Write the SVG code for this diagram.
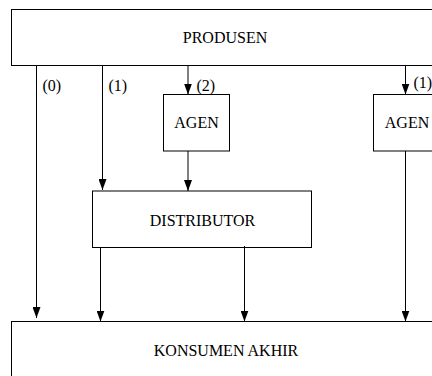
<svg xmlns="http://www.w3.org/2000/svg" width="432" height="376" viewBox="0 0 432 376">
<style>
.box{fill:#fff;stroke:#000;stroke-width:1}
.t{font-family:"Liberation Serif",serif;font-size:16px;fill:#000}
.c{text-anchor:middle}
.ln{stroke:#000;stroke-width:1;fill:none}
</style>
<defs>
<marker id="ah" markerWidth="11" markerHeight="8" refX="11" refY="4" orient="auto" markerUnits="userSpaceOnUse" viewBox="0 0 11 8">
<path d="M0,0 L11,4 L0,8 Z" fill="#000"/>
</marker>
</defs>
<rect width="432" height="376" fill="#fff"/>
<g id="produsen">
<rect class="box" x="11.5" y="9.5" width="440" height="56"/>
<text class="t c" x="225" y="43">PRODUSEN</text>
</g>
<g id="agen1">
<rect class="box" x="163.5" y="94.5" width="66" height="56.5"/>
<text class="t c" x="196.5" y="128">AGEN</text>
</g>
<g id="agen2">
<rect class="box" x="373.5" y="94.5" width="66" height="56.5"/>
<text class="t c" x="407" y="128">AGEN</text>
</g>
<g id="distributor">
<rect class="box" x="92.5" y="191" width="219" height="56.5"/>
<text class="t c" x="202.5" y="225.5">DISTRIBUTOR</text>
</g>
<g id="konsumen">
<rect class="box" x="11.5" y="321.5" width="440" height="80"/>
<text class="t c" x="226" y="355.5">KONSUMEN AKHIR</text>
</g>
<g id="connectors">
<line class="ln" x1="36.5" y1="65.5" x2="36.5" y2="318" marker-end="url(#ah)"/>
<line class="ln" x1="102.5" y1="65.5" x2="102.5" y2="190" marker-end="url(#ah)"/>
<line class="ln" x1="188" y1="65.5" x2="188" y2="94.5" marker-end="url(#ah)"/>
<line class="ln" x1="405.5" y1="65.5" x2="405.5" y2="94.5" marker-end="url(#ah)"/>
<line class="ln" x1="188" y1="151" x2="188" y2="191" marker-end="url(#ah)"/>
<line class="ln" x1="405.5" y1="151" x2="405.5" y2="321.5" marker-end="url(#ah)"/>
<line class="ln" x1="100.5" y1="247.5" x2="100.5" y2="321.5" marker-end="url(#ah)"/>
<line class="ln" x1="244.5" y1="246" x2="244.5" y2="321.5" marker-end="url(#ah)"/>
<text class="t" x="42.5" y="91">(0)</text>
<text class="t" x="108.5" y="91">(1)</text>
<text class="t" x="196.5" y="91">(2)</text>
<text class="t" x="413.5" y="88">(1)</text>
</g>
</svg>
